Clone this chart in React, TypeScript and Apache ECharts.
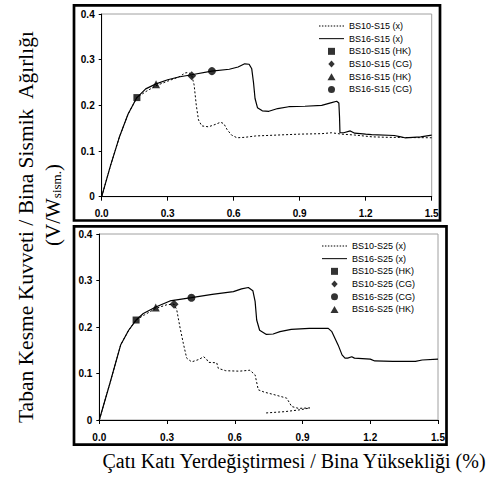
import React, { useEffect, useRef } from "react";
import * as echarts from "echarts";

// ---------- Top panel (S15) ----------
const s15SolidName = "BS16-S15 (x)";
const s15SolidX = [0, 0.04, 0.08, 0.12, 0.16, 0.2, 0.247, 0.3, 0.35, 0.409, 0.5, 0.58, 0.62, 0.65, 0.67, 0.682, 0.69, 0.697, 0.708, 0.73, 0.76, 0.8, 0.85, 0.924, 1.0, 1.045, 1.068, 1.078, 1.081, 1.083, 1.1, 1.13, 1.15, 1.2, 1.227, 1.33, 1.36, 1.378, 1.45, 1.5];
const s15SolidY = [0, 0.068, 0.13, 0.181, 0.217, 0.236, 0.247, 0.256, 0.262, 0.267, 0.275, 0.279, 0.284, 0.291, 0.29, 0.28, 0.25, 0.215, 0.195, 0.188, 0.187, 0.193, 0.197, 0.198, 0.2, 0.206, 0.209, 0.205, 0.175, 0.14, 0.14, 0.144, 0.139, 0.137, 0.136, 0.134, 0.131, 0.129, 0.131, 0.135];

const s15DotName = "BS10-S15 (x)";
const s15DotX = [0, 0.04, 0.08, 0.12, 0.16, 0.2, 0.247, 0.3, 0.35, 0.38, 0.395, 0.409, 0.42, 0.43, 0.44, 0.455, 0.485, 0.515, 0.54, 0.555, 0.57, 0.59, 0.615, 0.65, 0.7, 0.8, 0.9, 1.0, 1.045, 1.09, 1.15, 1.23, 1.3, 1.5];
const s15DotY = [0, 0.068, 0.13, 0.181, 0.217, 0.23, 0.243, 0.253, 0.262, 0.271, 0.272, 0.266, 0.245, 0.2, 0.168, 0.155, 0.153, 0.158, 0.163, 0.16, 0.147, 0.135, 0.129, 0.13, 0.133, 0.135, 0.137, 0.138, 0.14, 0.137, 0.135, 0.131, 0.13, 0.129];

const s15Markers = [
  { name: "BS10-S15 (HK)", symbol: "rect", size: 7, x: 0.16, y: 0.217 },
  { name: "BS10-S15 (CG)", symbol: "diamond", size: 9, x: 0.409, y: 0.265 },
  { name: "BS16-S15 (HK)", symbol: "triangle", size: 8, x: 0.247, y: 0.246 },
  { name: "BS16-S15 (CG)", symbol: "circle", size: 8, x: 0.501, y: 0.275 },
];

// ---------- Bottom panel (S25) ----------
const s25SolidName = "BS16-S25 (x)";
const s25SolidX = [0, 0.047, 0.095, 0.13, 0.163, 0.195, 0.25, 0.313, 0.408, 0.5, 0.594, 0.63, 0.66, 0.68, 0.69, 0.697, 0.71, 0.74, 0.77, 0.8, 0.85, 0.93, 1.014, 1.03, 1.058, 1.075, 1.088, 1.1, 1.118, 1.13, 1.2, 1.22, 1.3, 1.4, 1.43, 1.5];
const s25SolidY = [0, 0.079, 0.162, 0.193, 0.215, 0.229, 0.243, 0.256, 0.263, 0.27, 0.276, 0.282, 0.285, 0.278, 0.255, 0.215, 0.193, 0.184, 0.185, 0.19, 0.195, 0.197, 0.197, 0.19, 0.161, 0.14, 0.133, 0.133, 0.136, 0.133, 0.131, 0.127, 0.126, 0.126, 0.129, 0.131];

const s25DotName = "BS10-S25 (x)";
const s25DotX = [0, 0.047, 0.095, 0.13, 0.163, 0.2, 0.25, 0.3, 0.331, 0.343, 0.357, 0.372, 0.387, 0.409, 0.44, 0.462, 0.475, 0.483, 0.52, 0.527, 0.56, 0.62, 0.667, 0.69, 0.704, 0.73, 0.778, 0.83, 0.852, 0.882, 0.933, 0.89, 0.822, 0.734];
const s25DotY = [0, 0.079, 0.162, 0.193, 0.215, 0.226, 0.24, 0.248, 0.249, 0.237, 0.2, 0.165, 0.133, 0.125, 0.13, 0.136, 0.131, 0.124, 0.123, 0.111, 0.106, 0.105, 0.107, 0.097, 0.065, 0.06, 0.054, 0.047, 0.029, 0.025, 0.026, 0.022, 0.018, 0.015];

const s25Markers = [
  { name: "BS10-S25 (HK)", symbol: "rect", size: 7, x: 0.163, y: 0.215 },
  { name: "BS10-S25 (CG)", symbol: "diamond", size: 9, x: 0.331, y: 0.249 },
  { name: "BS16-S25 (CG)", symbol: "circle", size: 8, x: 0.408, y: 0.263 },
  { name: "BS16-S25 (HK)", symbol: "triangle", size: 8, x: 0.25, y: 0.242 },
];

const yTitle = "Taban Kesme Kuvveti / Bina Sismik  Ağırlığı";
const xTitle = "Çatı Katı Yerdeğiştirmesi / Bina Yüksekliği (%)";

const SANS = '"Liberation Sans", Arial, sans-serif';
const SERIF = '"Liberation Serif", "Times New Roman", serif';

// legend icon shapes (aspect kept by the legend)
const dottedIcon = "path://" + Array.from({ length: 9 }, (_, i) => `M${i * 3},0h1.5v1h-1.5z`).join("");
const solidIcon = "path://M0,0h25v1h-25z";
const legendIcons: Record<string, string> = {
  rect: "path://M0,0h1v1h-1z",
  diamond: "path://M1,0L2,1.1L1,2.2L0,1.1z",
  triangle: "path://M1,0L2,1.75L0,1.75z",
  circle: "path://M0,1a1,1 0 1,0 2,0a1,1 0 1,0 -2,0z",
};

const pairs = (xs: number[], ys: number[]) => xs.map((x, i) => [x, ys[i]]);

function xAxis(gridIndex: number) {
  return {
    type: "value",
    gridIndex,
    min: 0,
    max: 1.5,
    interval: 0.3,
    axisLine: { show: true, onZero: false, lineStyle: { color: "#000", width: 1 } },
    axisTick: { show: true, length: 4, inside: false, lineStyle: { color: "#000" } },
    axisLabel: {
      formatter: (v: number) => v.toFixed(1),
      fontFamily: SANS,
      fontWeight: "bold",
      fontSize: 10,
      color: "#000",
      margin: 12,
    },
    splitLine: { show: false },
  };
}

function yAxis(gridIndex: number) {
  return {
    type: "value",
    gridIndex,
    min: 0,
    max: 0.4,
    interval: 0.1,
    axisLine: { show: true, onZero: false, lineStyle: { color: "#000", width: 1 } },
    axisTick: { show: true, length: 3, inside: false, lineStyle: { color: "#000" } },
    axisLabel: {
      formatter: (v: number) => (v === 0 ? "0" : v.toFixed(1)),
      fontFamily: SANS,
      fontWeight: "bold",
      fontSize: 10,
      color: "#000",
      margin: 7,
    },
    splitLine: { show: false },
  };
}

function lineSeries(name: string, xs: number[], ys: number[], idx: number, dotted: boolean) {
  return {
    type: "line",
    name,
    xAxisIndex: idx,
    yAxisIndex: idx,
    data: pairs(xs, ys),
    symbol: "none",
    showSymbol: false,
    silent: true,
    z: 2,
    itemStyle: { color: "#000" },
    lineStyle: dotted
      ? { color: "#000", width: 1, type: [2, 2] }
      : { color: "#000", width: 1.2, type: "solid" },
  };
}

function markerSeries(m: { name: string; symbol: string; size: number; x: number; y: number }, idx: number) {
  return {
    type: "scatter",
    name: m.name,
    xAxisIndex: idx,
    yAxisIndex: idx,
    data: [[m.x, m.y]],
    symbol: m.symbol,
    symbolSize: m.size,
    silent: true,
    z: 3,
    itemStyle: { color: "#000" },
  };
}

function legend(left: number, top: number, dotName: string, solidName: string, markers: { name: string; symbol: string }[]) {
  return {
    orient: "vertical",
    left,
    top,
    padding: 0,
    itemWidth: 25,
    itemHeight: 7,
    itemGap: 0,
    selectedMode: false,
    symbolKeepAspect: true,
    textStyle: { fontFamily: SANS, fontSize: 9, lineHeight: 12.7, color: "#000" },
    data: [
      { name: dotName, icon: dottedIcon },
      { name: solidName, icon: solidIcon },
      ...markers.map((m) => ({ name: m.name, icon: legendIcons[m.symbol] })),
    ],
  };
}

export default function App() {
  const ref = useRef<HTMLDivElement>(null);
  useEffect(() => {
    const chart = echarts.init(ref.current!, null, { renderer: "svg" });
    const option: any = {
      animation: false,
      backgroundColor: "#fff",
      grid: [
        { left: 101.7, top: 14, width: 330, height: 182.7, show: true, borderColor: "#a0a0a0", borderWidth: 1, backgroundColor: "transparent" },
        { left: 99.3, top: 234, width: 338.7, height: 186, show: true, borderColor: "#a0a0a0", borderWidth: 1, backgroundColor: "transparent" },
      ],
      xAxis: [xAxis(0), xAxis(1)],
      yAxis: [yAxis(0), yAxis(1)],
      legend: [
        legend(319, 19.6, s15DotName, s15SolidName, s15Markers),
        legend(322, 239.6, s25DotName, s25SolidName, s25Markers),
      ],
      series: [
        lineSeries(s15DotName, s15DotX, s15DotY, 0, true),
        lineSeries(s15SolidName, s15SolidX, s15SolidY, 0, false),
        ...s15Markers.map((m) => markerSeries(m, 0)),
        lineSeries(s25DotName, s25DotX, s25DotY, 1, true),
        lineSeries(s25SolidName, s25SolidX, s25SolidY, 1, false),
        ...s25Markers.map((m) => markerSeries(m, 1)),
      ],
      graphic: [
        { type: "rect", silent: true, shape: { x: 74, y: 5.3, width: 366, height: 215.2 }, style: { fill: "none", stroke: "#000", lineWidth: 2.7 } },
        { type: "rect", silent: true, shape: { x: 74, y: 226.3, width: 372.5, height: 218.3 }, style: { fill: "none", stroke: "#000", lineWidth: 2.7 } },
        {
          type: "text",
          silent: true,
          x: 26,
          y: 227,
          rotation: Math.PI / 2,
          style: { text: yTitle, font: `21.5px ${SERIF}`, fill: "#000", align: "center", verticalAlign: "middle" },
        },
        {
          type: "text",
          silent: true,
          x: 51,
          y: 205,
          rotation: Math.PI / 2,
          style: {
            text: "{a|(V/W}{s|sism.}{a|)}",
            align: "center",
            verticalAlign: "middle",
            rich: {
              a: { fontFamily: SERIF, fontSize: 21, lineHeight: 24, fill: "#000", color: "#000", verticalAlign: "bottom" },
              s: { fontFamily: SERIF, fontSize: 13, lineHeight: 14, fill: "#000", color: "#000", verticalAlign: "bottom" },
            },
          },
        },
        {
          type: "text",
          silent: true,
          x: 294,
          y: 461,
          style: { text: xTitle, font: `20px ${SERIF}`, fill: "#000", align: "center", verticalAlign: "middle" },
        },
      ],
    };
    chart.setOption(option);
    return () => chart.dispose();
  }, []);
  return <div ref={ref} style={{ position: "absolute", left: 0, top: 0, width: 488, height: 479 }} />;
}
